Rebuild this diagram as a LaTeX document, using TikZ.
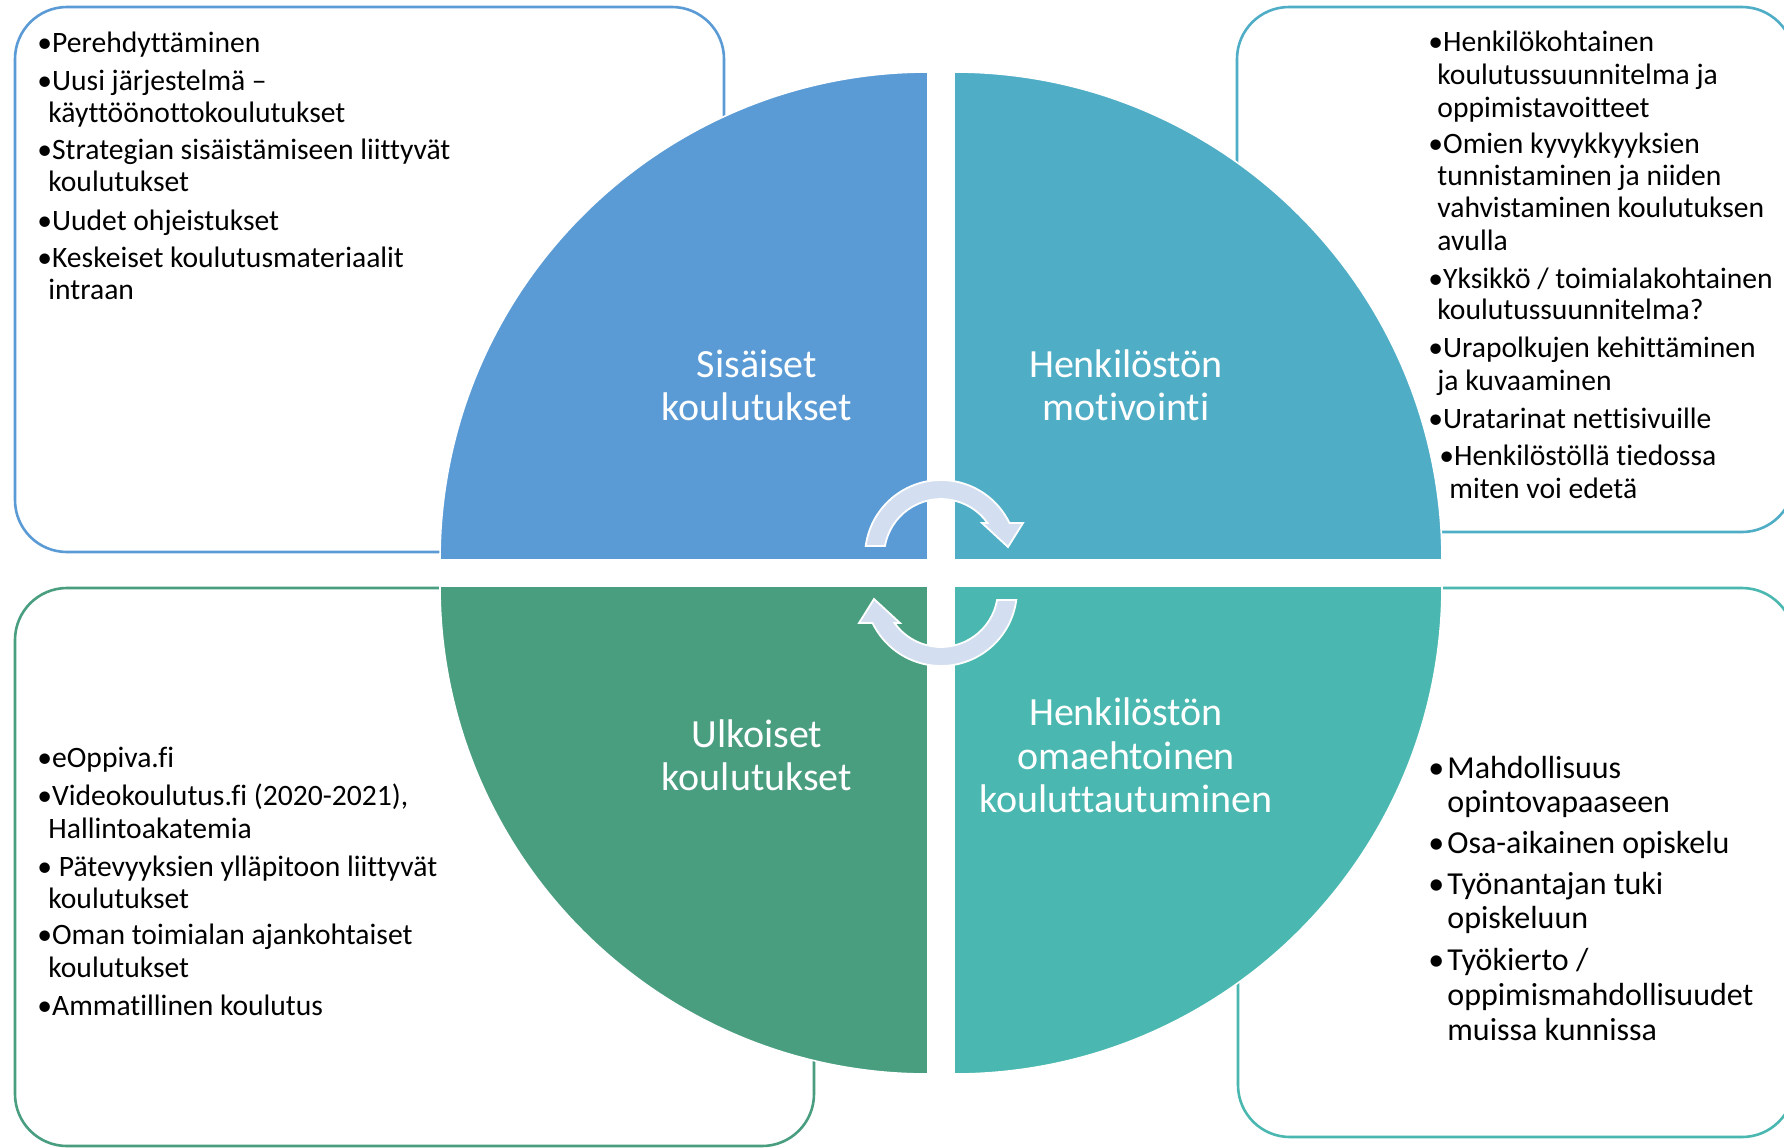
\documentclass[tikz,border=0pt]{standalone}
\usepackage{fontspec}
\setmainfont{Carlito}[Ligatures=NoCommon]
\definecolor{cA}{HTML}{5B9BD5}
\definecolor{cB}{HTML}{4FADC6}
\definecolor{cC}{HTML}{4A9E80}
\definecolor{cD}{HTML}{4AB8B0}
\definecolor{arw}{HTML}{D3DEF0}
\begin{document}
\begin{tikzpicture}[x=0.5pt,y=-0.5pt,
  box/.style={line width=1.3pt, rounded corners=26pt, fill=white},
  quad/.style={draw=white, line width=0.8pt},
  arrowshape/.style={fill=arw, draw=white, line width=0.9pt, line join=miter},
  lbl/.style={text=white, font=\fontsize{20pt}{24pt}\selectfont, anchor=base, inner sep=0pt},
  lt/.style={anchor=base west, inner sep=0pt, font=\fontsize{14.8pt}{18pt}\selectfont},
  rt/.style={anchor=base west, inner sep=0pt, font=\fontsize{14.8pt}{18pt}\selectfont},
  brt/.style={anchor=base west, inner sep=0pt, font=\fontsize{16pt}{19pt}\selectfont}]
\useasboundingbox (0,0) rectangle (1784,1147);
\fill[white] (0,0) rectangle (1784,1147);

% outer boxes
\draw[box, draw=cA] (15,7) rectangle (724,552);
\draw[box, draw=cB] (1237,7) rectangle (1794,532);
\draw[box, draw=cC] (15,588) rectangle (814,1146);
\draw[box, draw=cD] (1238,588) rectangle (1794,1137);

% quadrants
\path[quad, fill=cA] (928,560) -- (440,560) arc[start angle=180, end angle=270, radius=488] -- cycle;
\path[quad, fill=cB] (954,560) -- (954,72) arc[start angle=270, end angle=360, radius=488] -- cycle;
\path[quad, fill=cC] (928,586) -- (928,1074) arc[start angle=90, end angle=180, radius=488] -- cycle;
\path[quad, fill=cD] (954,586) -- (1442,586) arc[start angle=0, end angle=90, radius=488] -- cycle;

% circular arrows
\path[arrowshape] (865.7,546) arc[start angle=187.6, end angle=334.3, radius=76]
  -- (1023,523) -- (1008,547) -- (982,523) -- (987.5,523)
  arc[start angle=324.6, end angle=190.1, radius=57] -- cycle;
\path[arrowshape] (1016.3,600) arc[start angle=7.6, end angle=154.3, radius=76]
  -- (859,623) -- (874,599) -- (900,623) -- (894.5,623)
  arc[start angle=144.6, end angle=10.1, radius=57] -- cycle;

% quadrant labels
\node[lbl] (qa1) at (757,377) {Sisäiset};
\node[lbl] (qa2) at (757,420.5) {koulutukset};
\node[lbl] (qb1) at (1126,377) {Henkilöstön};
\node[lbl] (qb2) at (1126,420.5) {motivointi};
\node[lbl] (qc1) at (757,747) {Ulkoiset};
\node[lbl] (qc2) at (757,790) {koulutukset};
\node[lbl] (qd1) at (1126,725) {Henkilöstön};
\node[lbl] (qd2) at (1126,769) {omaehtoinen};
\node[lbl] (qd3) at (1126,812) {kouluttautuminen};

% top-left box text
\node[lt] (tl1) at (37,52) {•Perehdyttäminen};
\node[lt] (tl2) at (37,90) {•Uusi järjestelmä –};
\node[lt] (tl2b) at (48,122) {käyttöönottokoulutukset};
\node[lt] (tl3) at (37,159) {•Strategian sisäistämiseen liittyvät};
\node[lt] (tl3b) at (48,191) {koulutukset};
\node[lt] (tl4) at (37,230) {•Uudet ohjeistukset};
\node[lt] (tl5) at (37,267) {•Keskeiset koulutusmateriaalit};
\node[lt] (tl5b) at (48,299) {intraan};

% top-right box text
\node[rt] (tr1) at (1428,51) {•Henkilökohtainen};
\node[rt] (tr1b) at (1437,84) {koulutussuunnitelma ja};
\node[rt] (tr1c) at (1437,117) {oppimistavoitteet};
\node[rt] (tr2) at (1428,153) {•Omien kyvykkyyksien};
\node[rt] (tr2b) at (1437,185) {tunnistaminen ja niiden};
\node[rt] (tr2c) at (1437,217) {vahvistaminen koulutuksen};
\node[rt] (tr2d) at (1437,250) {avulla};
\node[rt] (tr3) at (1428,288) {•Yksikkö / toimialakohtainen};
\node[rt] (tr3b) at (1437,319) {koulutussuunnitelma?};
\node[rt] (tr4) at (1428,357) {•Urapolkujen kehittäminen};
\node[rt] (tr4b) at (1437,390) {ja kuvaaminen};
\node[rt] (tr5) at (1428,428) {•Uratarinat nettisivuille};
\node[rt] (tr6) at (1439,465) {•Henkilöstöllä tiedossa};
\node[rt] (tr6b) at (1449,498) {miten voi edetä};

% bottom-left box text
\node[lt] (bl1) at (37,767) {•eOppiva.fi};
\node[lt] (bl2) at (37,805) {•Videokoulutus.fi (2020-2021),};
\node[lt] (bl2b) at (48,838) {Hallintoakatemia};
\node[lt] (bl3) at (37,876) {• Pätevyyksien ylläpitoon liittyvät};
\node[lt] (bl3b) at (48,908) {koulutukset};
\node[lt] (bl4) at (37,944) {•Oman toimialan ajankohtaiset};
\node[lt] (bl4b) at (48,977) {koulutukset};
\node[lt] (bl5) at (37,1015) {•Ammatillinen koulutus};

% bottom-right box text
\node[brt] (brb1) at (1428,778) {•};
\node[brt] (br1) at (1447,778) {Mahdollisuus};
\node[brt] (br1b) at (1447,812) {opintovapaaseen};
\node[brt] (brb2) at (1428,853) {•};
\node[brt] (br2) at (1447,853) {Osa-aikainen opiskelu};
\node[brt] (brb3) at (1428,894) {•};
\node[brt] (br3) at (1447,894) {Työnantajan tuki};
\node[brt] (br3b) at (1447,928) {opiskeluun};
\node[brt] (brb4) at (1428,970) {•};
\node[brt] (br4) at (1447,970) {Työkierto /};
\node[brt] (br4b) at (1447,1005) {oppimismahdollisuudet};
\node[brt] (br4c) at (1447,1040) {muissa kunnissa};
\end{tikzpicture}
\end{document}
